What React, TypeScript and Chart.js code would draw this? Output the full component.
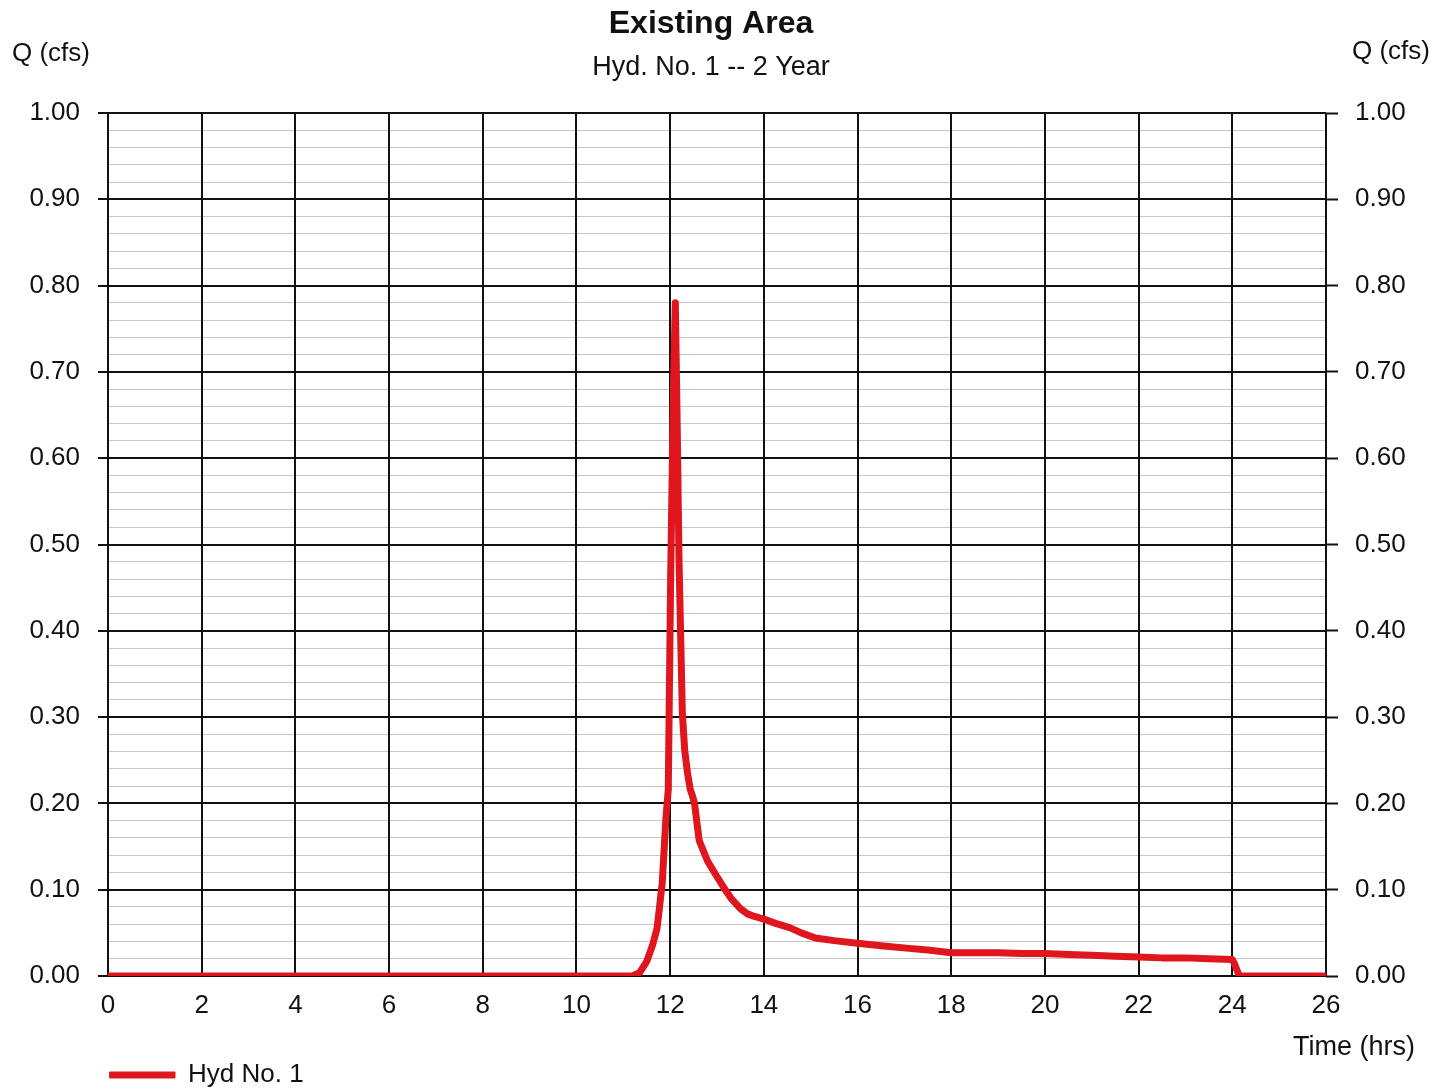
import React, { useEffect, useRef } from "react";
import { Chart, registerables } from "chart.js";

Chart.register(...registerables);

const timeHrs = [
  0, 11.2, 11.35, 11.5, 11.62, 11.72, 11.83, 11.91, 11.96, 12.01, 12.07, 12.11,
  12.15, 12.19, 12.26, 12.31, 12.37, 12.43, 12.48, 12.52, 12.62, 12.8, 13.0,
  13.15, 13.3, 13.5, 13.65, 13.8, 14.0, 14.25, 14.55, 14.8, 15.1, 15.5, 16.0,
  16.5, 17.1, 17.5, 18.0, 18.5, 19.0, 19.5, 20.0, 20.5, 21.0, 21.5, 22.0, 22.5,
  23.0, 23.5, 24.0, 24.04, 24.15, 26,
];
const flowCfs = [
  0, 0, 0.004, 0.017, 0.035, 0.055, 0.107, 0.183, 0.216, 0.46, 0.68, 0.78,
  0.64, 0.48, 0.305, 0.262, 0.235, 0.216, 0.208, 0.2, 0.157, 0.133, 0.115,
  0.102, 0.09, 0.078, 0.072, 0.069, 0.066, 0.061, 0.056, 0.05, 0.044, 0.041,
  0.038, 0.035, 0.032, 0.03, 0.027, 0.027, 0.027, 0.026, 0.026, 0.025, 0.024,
  0.023, 0.022, 0.021, 0.021, 0.02, 0.019, 0.015, 0, 0,
];

const xRange = [0, 26];
const xStep = 2;
const yRange = [0, 1];
const yMajorStep = 0.1;
const yMinorStep = 0.02;

const titleText = "Existing Area";
const subtitleText = "Hyd. No. 1 -- 2 Year";
const seriesLabel = "Hyd No. 1";
const yAxisLabel = "Q (cfs)";
const xAxisLabel = "Time (hrs)";

const RED = "#df161d";
const INK = "#111111";
const FONT = '"Liberation Sans", Arial, sans-serif';

export default function App() {
  const ref = useRef<HTMLCanvasElement>(null);

  useEffect(() => {
    document.body.style.margin = "0";
    const canvas = ref.current;
    if (!canvas) return;

    const isMajor = (v: number) =>
      Math.abs(v / yMajorStep - Math.round(v / yMajorStep)) < 1e-6;

    const axisText = {
      id: "axisText",
      afterDraw(chart: any) {
        const ctx = chart.ctx;
        ctx.save();
        ctx.font = `26px ${FONT}`;
        ctx.fillStyle = INK;
        ctx.textBaseline = "middle";
        ctx.textAlign = "left";
        ctx.fillText(yAxisLabel, 12, 54);
        ctx.fillText(yAxisLabel, 1352, 52);
        ctx.textAlign = "right";
        ctx.font = `27px ${FONT}`;
        ctx.fillText(xAxisLabel, 1415, 1048);
        ctx.restore();
      },
    };

    const defaultGen = (Chart.defaults as any).plugins.legend.labels.generateLabels;

    const chart = new Chart(canvas, {
      type: "line",
      data: {
        datasets: [
          {
            label: seriesLabel,
            data: timeHrs.map((t, i) => ({ x: t, y: flowCfs[i] })),
            borderColor: RED,
            backgroundColor: RED,
            borderWidth: 7,
            pointRadius: 0,
            tension: 0,
            borderCapStyle: "round",
            borderJoinStyle: "round",
            yAxisID: "y",
          } as any,
        ],
      },
      options: {
        responsive: false,
        animation: false,
        layout: { padding: { left: 0, right: 27, top: 0, bottom: 0 } },
        plugins: {
          title: {
            display: true,
            text: titleText,
            color: INK,
            font: { family: FONT, size: 32, weight: "bold" },
            padding: { top: 4.8, bottom: 4 },
          },
          subtitle: {
            display: true,
            text: subtitleText,
            color: INK,
            font: { family: FONT, size: 27 },
            padding: { top: 4.6, bottom: 28.8 },
          },
          legend: {
            display: true,
            position: "bottom",
            align: "start",
            fullSize: false,
            maxHeight: 30,
            labels: {
              boxWidth: 65,
              boxHeight: 6,
              padding: 2,
              color: INK,
              font: { family: FONT, size: 26 },
              generateLabels: (c: any) =>
                defaultGen(c).map((l: any) => ({
                  ...l,
                  lineWidth: 1,
                  strokeStyle: RED,
                  fillStyle: RED,
                })),
            },
          },
          tooltip: { enabled: false },
        },
        scales: {
          x: {
            type: "linear",
            min: xRange[0],
            max: xRange[1],
            ticks: {
              stepSize: xStep,
              padding: 14.4,
              autoSkip: false,
              maxRotation: 0,
              color: INK,
              font: { family: FONT, size: 26 },
            },
            grid: { color: INK, lineWidth: 2, drawTicks: false },
            border: { display: true, color: INK, width: 2 },
            afterFit: (s: any) => {
              s.height = 84;
            },
          },
          y: {
            type: "linear",
            position: "left",
            min: yRange[0],
            max: yRange[1],
            ticks: {
              stepSize: yMinorStep,
              autoSkip: false,
              padding: 18,
              color: INK,
              font: { family: FONT, size: 26 },
              callback: (v: any) => (isMajor(Number(v)) ? Number(v).toFixed(2) : ""),
            },
            grid: {
              color: (c: any) =>
                c.tick && isMajor(c.tick.value) ? INK : "rgba(0,0,0,0.22)",
              lineWidth: (c: any) => (c.tick && isMajor(c.tick.value) ? 2 : 1),
              tickColor: (c: any) =>
                c.tick && isMajor(c.tick.value) ? INK : "rgba(0,0,0,0)",
              tickLength: 10,
              tickWidth: 2,
            },
            border: { display: true, color: INK, width: 2 },
            afterFit: (s: any) => {
              s.width = 108;
            },
          },
          y2: {
            type: "linear",
            position: "right",
            min: yRange[0],
            max: yRange[1],
            ticks: {
              stepSize: yMajorStep,
              autoSkip: false,
              padding: 17,
              color: INK,
              font: { family: FONT, size: 26 },
              callback: (v: any) => Number(v).toFixed(2),
            },
            grid: {
              drawOnChartArea: false,
              tickLength: 12,
              tickColor: INK,
              tickWidth: 2,
            },
            border: { display: false },
            afterFit: (s: any) => {
              s.width = 96;
            },
          },
        },
      } as any,
      plugins: [axisText],
    });

    return () => chart.destroy();
  }, []);

  return (
    <canvas
      ref={ref}
      width={1449}
      height={1090}
      style={{ display: "block", width: 1449, height: 1090 }}
    />
  );
}
